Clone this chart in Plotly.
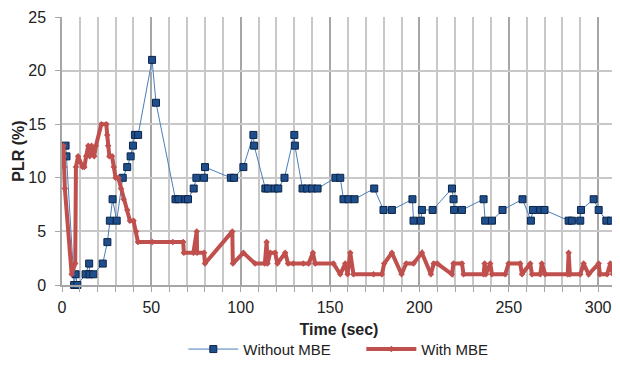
import plotly.graph_objects as go

# Without MBE (blue)
t_without = [2.0, 2.5, 6.8, 7.6, 8.6, 13.2, 15.2, 15.4, 17.5, 22.8,
             25.4, 26.8, 28.3, 30.6, 34.0, 36.5, 38.4, 39.7, 40.8, 42.6,
             50.4, 52.6, 63.5, 65.2, 69.0, 70.5, 73.7, 75.2, 79.5, 80.0,
             94.5, 96.3, 101.5, 107.1, 107.5, 113.8, 115.3, 119.0, 121.0, 124.5,
             130.0, 130.3, 134.6, 137.2, 140.0, 143.0, 153.0, 155.7, 157.5, 160.3,
             163.7, 174.7, 179.9, 184.6, 196.1, 196.7, 200.8, 201.4, 207.4, 218.2,
             219.1, 219.4, 223.8, 235.9, 236.8, 240.6, 246.5, 257.7, 262.4, 263.5,
             267.6, 270.0, 283.5, 285.3, 290.0, 290.4, 297.5, 300.3, 304.6, 307.2]
plr_without = [13, 12, 0, 1, 0, 1, 2, 1, 1, 2,
               4, 6, 8, 6, 10, 11, 12, 13, 14, 14,
               21, 17, 8, 8, 8, 8, 9, 10, 10, 11,
               10, 10, 11, 14, 13, 9, 9, 9, 9, 10,
               14, 13, 9, 9, 9, 9, 10, 10, 8, 8,
               8, 9, 7, 7, 8, 6, 6, 7, 7, 9,
               8, 7, 7, 8, 6, 6, 7, 8, 6, 7,
               7, 7, 6, 6, 6, 7, 8, 7, 6, 6]

# With MBE (red)
t_with = [0.8, 1.0, 1.2, 1.6, 5.4, 7.4, 7.8, 9.0, 11.5, 12.5,
          13.5, 14.7, 15.5, 16.5, 18.0, 19.0, 22.0, 24.8, 25.3, 25.8,
          26.5, 28.0, 29.0, 30.0, 31.5, 33.0, 34.5, 36.5, 38.0, 40.0,
          41.5, 42.5, 50.5, 62.0, 67.8, 68.2, 73.5, 75.4, 75.6, 79.5,
          80.0, 95.3, 95.6, 101.5, 108.0, 113.5, 114.5, 115.0, 116.5, 119.3,
          120.5, 124.9, 126.5, 129.5, 135.0, 138.0, 140.4, 141.7, 151.9, 155.7,
          158.5, 159.8, 161.3, 163.1, 174.3, 179.0, 180.3, 184.6, 190.0, 192.6,
          196.7, 201.4, 206.4, 208.0, 210.0, 218.2, 219.1, 223.8, 224.7, 235.9,
          236.5, 237.2, 239.6, 240.6, 248.0, 249.9, 256.4, 257.4, 262.0, 263.0,
          267.6, 268.5, 270.4, 283.0, 283.5, 284.2, 290.0, 291.9, 294.7, 300.3,
          301.0, 305.0, 306.8, 308.3, 308.6]
plr_with = [13, 12, 11, 9, 1, 2, 11, 12, 11, 11,
            12, 13, 12, 13, 12, 13, 15, 15, 14, 13,
            12, 12, 11, 10, 10, 9, 8, 7, 6, 6,
            5, 4, 4, 4, 4, 3, 3, 5, 3, 3,
            2, 5, 2, 3, 2, 2, 4, 2, 3, 3,
            2, 3, 2, 2, 2, 2, 3, 2, 2, 1,
            2, 1, 3, 1, 1, 1, 2, 3, 1, 2,
            2, 3, 1, 2, 2, 1, 2, 2, 1, 1,
            2, 1, 2, 1, 1, 2, 2, 1, 2, 1,
            1, 2, 1, 1, 3, 1, 1, 2, 1, 2,
            1, 1, 2, 1, 2]

x_ticks = [0, 50, 100, 150, 200, 250, 300]
y_ticks = [0, 5, 10, 15, 20, 25]

FONT = "Liberation Sans, Arial, sans-serif"

fig = go.Figure()
fig.add_trace(go.Scatter(
    x=t_without, y=plr_without, mode="lines+markers", name="Without MBE",
    line=dict(color="#4A7EBB", width=1),
    marker=dict(symbol="square", size=7, color="#1F4E8C",
                line=dict(color="#0B2447", width=1)),
    cliponaxis=False,
))
fig.add_trace(go.Scatter(
    x=t_with, y=plr_with, mode="lines+markers", name="With MBE",
    line=dict(color="#C0504D", width=4),
    marker=dict(symbol="diamond", size=5, color="#C0504D"),
    cliponaxis=False,
))

# page body has an 8px margin, so the figure is sized to fit the window
fig.update_layout(
    width=612, height=362,
    margin=dict(l=54, r=4, t=9, b=81),
    paper_bgcolor="white", plot_bgcolor="white",
    font=dict(family=FONT, color="#222222", size=16),
    showlegend=True,
    legend=dict(orientation="h", x=0.219, xanchor="left",
                y=-0.24, yanchor="middle",
                font=dict(size=15, family=FONT, color="#222"),
                itemwidth=50, entrywidth=113, entrywidthmode="pixels"),
)
fig.update_xaxes(
    range=[0, 310], tickvals=x_ticks, ticktext=[str(v) for v in x_ticks],
    automargin=False,
    showgrid=True, gridcolor="#A6A6A6", gridwidth=1.5,
    minor=dict(dtick=10, tick0=0, showgrid=True, gridcolor="#C8C8C8", gridwidth=1.5,
               ticks="outside", ticklen=5, tickcolor="#A6A6A6"),
    ticks="outside", ticklen=5, tickcolor="#A6A6A6",
    ticklabelstandoff=2,
    showline=True, linecolor="#A6A6A6", linewidth=1.5,
    zeroline=False,
    tickfont=dict(size=16),
    title=dict(text="<b>Time (sec)</b>", font=dict(size=16), standoff=9),
)
fig.update_yaxes(
    range=[0, 25], tickvals=y_ticks,
    automargin=False,
    showgrid=True, gridcolor="#C8C8C8", gridwidth=1.5,
    ticks="outside", ticklen=5, tickcolor="#A6A6A6",
    ticklabelstandoff=6,
    showline=True, linecolor="#A6A6A6", linewidth=1.5,
    zeroline=False,
    tickfont=dict(size=16),
    title=dict(text="<b>PLR (%)</b>", font=dict(size=16), standoff=0),
)

fig.write_html("out.html")
